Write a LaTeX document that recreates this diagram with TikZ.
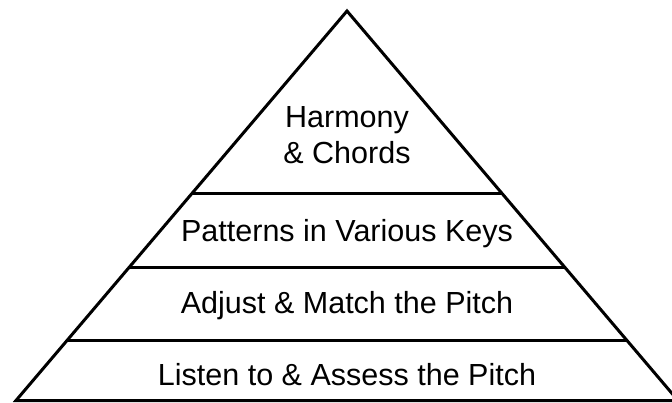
\documentclass[tikz,border=0pt]{standalone}
\usepackage{fontspec}
\setmainfont{Liberation Sans}
\usetikzlibrary{calc}
\begin{document}
\begin{tikzpicture}[x=1pt,y=-1pt,
  edge/.style={line width=3pt,line join=miter},
  label/.style={anchor=base,inner sep=0pt,font=\fontsize{30.5}{36}\selectfont}]
\useasboundingbox (0,0) rectangle (672,402);
\begin{scope}
\clip (0,0) rectangle (672,402);
% outline of the pyramid
\coordinate (apex) at (347,11);
\coordinate (bl) at (16,400.5);
\coordinate (br) at (678,400.5);
\draw[edge] (bl) -- (apex) -- (br) -- cycle;
% dividing lines between the tiers
\foreach \t [count=\i] in {0.4698,0.6573,0.8460}{
  \draw[edge] ($(apex)!\t!(bl)$) -- ($(apex)!\t!(br)$);
}
\end{scope}
% tier labels
\node[label] (harmony) at (347,127) {Harmony};
\node[label] (chords) at (347,163) {\& Chords};
\node[label] (patterns) at (347,241) {Patterns in Various Keys};
\node[label] (adjust) at (347,313) {Adjust \& Match the Pitch};
\node[label] (listen) at (347,385) {Listen to \& Assess the Pitch};
\end{tikzpicture}
\end{document}
